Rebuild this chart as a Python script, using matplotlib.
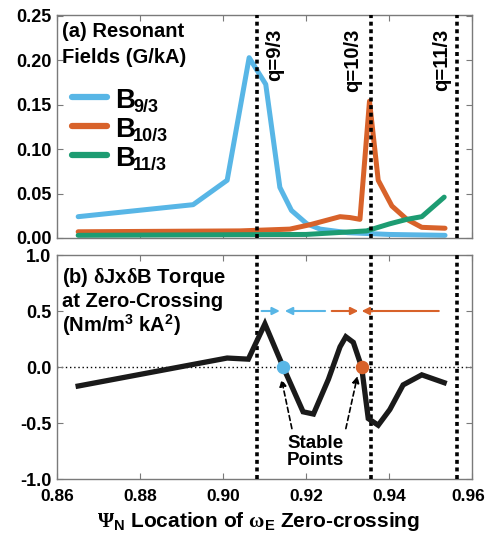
import matplotlib
matplotlib.use("Agg")
import matplotlib.pyplot as plt
import matplotlib.transforms as mtrans

# ---- data ----
b93_x = [0.8651, 0.8928, 0.9010, 0.9063, 0.9103, 0.9137, 0.9165, 0.9202, 0.9234, 0.9300, 0.9400, 0.9535]
b93_y = [0.024, 0.0375, 0.065, 0.203, 0.173, 0.057, 0.031, 0.016, 0.010, 0.006, 0.004, 0.003]

b103_x = [0.8651, 0.9041, 0.9161, 0.9210, 0.9258, 0.9282, 0.9306, 0.9330, 0.9353, 0.9374, 0.9407, 0.9443, 0.9479, 0.9535]
b103_y = [0.007, 0.008, 0.010, 0.015, 0.021, 0.024, 0.023, 0.021, 0.154, 0.065, 0.036, 0.021, 0.012, 0.011]

b113_x = [0.8651, 0.9200, 0.9346, 0.9402, 0.9443, 0.9479, 0.9533]
b113_y = [0.003, 0.004, 0.008, 0.016, 0.021, 0.024, 0.046]

tq_x = [0.8651, 0.9010, 0.9061, 0.9101, 0.9145, 0.9193, 0.9218, 0.9254, 0.9282, 0.9296, 0.9314, 0.9334, 0.9350, 0.9374, 0.9402, 0.9434, 0.9479, 0.9533]
tq_y = [-0.17, 0.08, 0.07, 0.385, 0.0, -0.40, -0.42, -0.11, 0.18, 0.27, 0.22, 0.0, -0.46, -0.52, -0.38, -0.16, -0.07, -0.14]

q_pos = [0.9081, 0.9356, 0.9565]
q_labels = ["q=9/3", "q=10/3", "q=11/3"]
q_text_x = [0.9125, 0.9313, 0.9527]

stable_x = [0.9145, 0.9334]

xticks = [0.86, 0.88, 0.90, 0.92, 0.94, 0.96]
xtick_labels = ["0.86", "0.88", "0.90", "0.92", "0.94", "0.96"]
top_yticks = [0.00, 0.05, 0.10, 0.15, 0.20, 0.25]
top_ytick_labels = ["0.00", "0.05", "0.10", "0.15", "0.20", "0.25"]
bot_yticks = [-1.0, -0.5, 0.0, 0.5, 1.0]
bot_ytick_labels = ["-1.0", "-0.5", "0.0", "0.5", "1.0"]

legend_names = ["B", "B", "B"]
legend_subs = ["9/3", "10/3", "11/3"]

BLUE = "#58B6E6"
ORANGE = "#D8622A"
GREEN = "#1D9C72"

plt.rcParams['font.family'] = ['Liberation Sans', 'DejaVu Sans']
plt.rcParams['font.weight'] = 'bold'
plt.rcParams['mathtext.fontset'] = 'custom'
plt.rcParams['mathtext.rm'] = 'Liberation Sans:bold'
plt.rcParams['mathtext.bf'] = 'Liberation Sans:bold'
plt.rcParams['mathtext.it'] = 'Liberation Sans:bold'
plt.rcParams['mathtext.sf'] = 'Liberation Serif'

fig = plt.figure(figsize=(4.88, 5.37), dpi=100)
ax1 = fig.add_axes([57/488, 1-238/537, 415/488, 223/537])
ax2 = fig.add_axes([57/488, 1-479/537, 415/488, 224/537])

for ax in (ax1, ax2):
    ax.set_xlim(0.86, 0.96)
    ax.set_xticks(xticks)
    for sp in ax.spines.values():
        sp.set_color('#7a7a7a')
        sp.set_linewidth(1.0)
    ax.tick_params(direction='in', top=True, right=True, color='#7a7a7a',
                   length=4, width=0.8, labelsize=13)
    ax.tick_params(axis='y', pad=4)
    ax.tick_params(axis='x', pad=7.5, labelsize=12.5)
    for x in q_pos:
        ax.axvline(x, color='black', lw=2.6, linestyle=(0, (1.1, 1.0)), zorder=3)

# ---- top panel ----
ax1.set_ylim(0, 0.251)
ax1.set_yticks(top_yticks)
ax1.set_yticklabels(top_ytick_labels)
ax1.set_xticklabels([])
ax1.plot(b93_x, b93_y, color=BLUE, lw=3.6, solid_capstyle='round', zorder=2)
ax1.plot(b103_x, b103_y, color=ORANGE, lw=3.6, solid_capstyle='round', zorder=2)
ax1.plot(b113_x, b113_y, color=GREEN, lw=3.6, solid_capstyle='round', zorder=2)

ax1.text(0.011, 0.900, "(a) Resonant", transform=ax1.transAxes,
         fontsize=14.5, fontweight='bold', va='baseline', ha='left')
ax1.text(0.011, 0.785, "Fields (G/kA)", transform=ax1.transAxes,
         fontsize=14.5, fontweight='bold', va='baseline', ha='left')

leg_y = [0.632, 0.502, 0.372]
leg_col = [BLUE, ORANGE, GREEN]
for yy, nm, sub, c in zip(leg_y, legend_names, legend_subs, leg_col):
    ax1.plot([0.036, 0.12], [yy, yy], transform=ax1.transAxes, color=c, lw=4.5,
             solid_capstyle='round')
    ax1.text(0.14, yy - 0.047, nm, transform=ax1.transAxes, fontsize=20,
             fontweight='bold', va='baseline', ha='left')
    ax1.text(0.183, yy - 0.066, sub, transform=ax1.transAxes, fontsize=13,
             fontweight='bold', va='baseline', ha='left')

for xt, lab in zip(q_text_x, q_labels):
    ax1.text(xt, 0.236, lab, rotation=90, fontsize=14.5, fontweight='bold',
             ha='center', va='top')

# ---- bottom panel ----
ax2.set_ylim(-1.0, 1.0)
ax2.set_yticks(bot_yticks)
ax2.set_yticklabels(bot_ytick_labels)
ax2.set_xticklabels(xtick_labels)
last = ax2.get_xticklabels()[-1]
last.set_transform(last.get_transform() + mtrans.ScaledTranslation(-4/100, 0, fig.dpi_scale_trans))

ax2.axhline(0, color='black', lw=1.0, linestyle=(0, (1, 2)), zorder=1)
ax2.plot(tq_x, tq_y, color='#1a1a1a', lw=3.8, solid_joinstyle='miter', zorder=4)
ax2.scatter([stable_x[0]], [0], s=75, color=BLUE, zorder=5)
ax2.scatter([stable_x[1]], [0], s=75, color=ORANGE, zorder=5)

b_lines = ["(b) " + r"$\mathsf{\delta}$" + "Jx" + r"$\mathsf{\delta}$" + "B Torque",
           "at Zero-Crossing",
           "(Nm/m" + r"$^{\mathbf{3}}$" + " kA" + r"$^{\mathbf{2}}$" + ")"]
for yy, s in zip([0.875, 0.769, 0.658], b_lines):
    ax2.text(0.011, yy, s, transform=ax2.transAxes, fontsize=14.5,
             fontweight='bold', va='baseline', ha='left')

arrows = [((0.9093, 0.9137), BLUE), ((0.9246, 0.9149), BLUE),
          ((0.9262, 0.9326), ORANGE), ((0.9520, 0.9334), ORANGE)]
for (x0, x1), c in arrows:
    ax2.annotate("", xy=(x1, 0.5), xytext=(x0, 0.5),
                 arrowprops=dict(arrowstyle='-|>', color=c, lw=1.5,
                                 mutation_scale=11, shrinkA=0, shrinkB=0))

ax2.text(0.9222, -0.76, "Stable\nPoints", fontsize=13.5, fontweight='bold',
         ha='center', va='center', linespacing=1.05)
ax2.annotate("", xy=(0.9141, -0.11), xytext=(0.9166, -0.55),
             arrowprops=dict(arrowstyle='-|>', color='black', lw=1.2,
                             linestyle=(0, (3, 2)), mutation_scale=10,
                             shrinkA=0, shrinkB=0))
ax2.annotate("", xy=(0.9324, -0.08), xytext=(0.9296, -0.55),
             arrowprops=dict(arrowstyle='-|>', color='black', lw=1.2,
                             linestyle=(0, (3, 2)), mutation_scale=10,
                             shrinkA=0, shrinkB=0))

fig.text(258.5/488, 10/537,
         r"$\mathsf{\Psi}_{\mathbf{N}}$ Location of $\mathsf{\omega}_{\mathbf{E}}$ Zero-crossing",
         fontsize=15, fontweight='bold', ha='center', va='baseline')

fig.savefig("out.png", dpi=100)
